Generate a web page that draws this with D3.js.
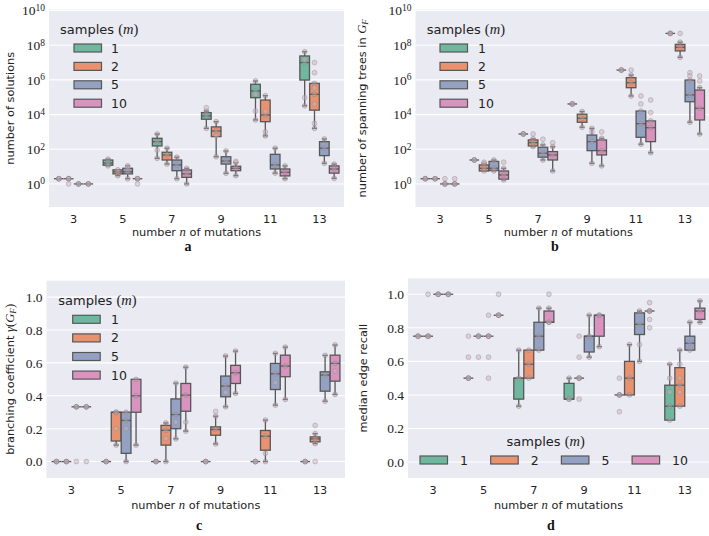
<!DOCTYPE html>
<html><head><meta charset="utf-8">
<script src="https://cdn.jsdelivr.net/npm/d3@7"></script>
<style>body{margin:0;background:#fff}svg{display:block}</style>
</head><body>
<svg id="chart" width="709" height="536"></svg>
<script>
// ---------- DATA ----------
const mutations = [3, 5, 7, 9, 11, 13];
const samples = ["1", "2", "5", "10"];
// box stats per n: [whiskerLow, q1, median, q3, whiskerHigh]

// (a) number of solutions
const solutionsM1 = [[2,2,2,2,2],[11,12,16,24,27],[30,155,275,430,760],[1600,5400,8300,13000,16000],[4900,94000,230000,560000,870000],[32000,980000,1.0e7,2.4e7,4.2e7]];
const solutionsM2 = [[2,2,2,2,2],[3,3.8,5,6.5,6.5],[14,24,47,67,115],[37,540,1130,1950,3900],[590,3900,9500,69000,123000],[1600,18000,148000,630000,630000]];
const solutionsM5 = [[1,1,1,1,1],[2,3.8,5,8,11],[2,5.8,12.5,24,35],[4.1,14,21,37,80],[4.2,7.3,12.5,51,115],[15.5,43,115,275,390]];
const solutionsM10 = [[1,1,1,1,1],[2,2,2,2,2],[1,2.4,3.8,6.4,8],[3,5.8,8,10.5,17],[2,2.9,4.7,7.3,11],[2.1,4.2,7.3,11,14]];
// extra visible points: [nIndex, sampleIndex, value]
const solutionsPoints = [[0,1,1],[1,3,1],[1,2,9],[2,0,90],[3,0,25000],[3,1,600],[3,3,20],[4,0,16000],[4,0,150000],[4,1,1000],[4,1,15000],[5,0,94000],[5,0,1.5e7],[5,1,1e7],[5,1,2.6e6],[5,1,350000],[5,1,40000],[5,1,3100]];

// (b) number of spanning trees in G_F
const treesM1 = [[2,2,2,2,2],[24,24,24,24,24],[760,760,760,760,760],[41000,41000,41000,41000,41000],[3.7e6,3.7e6,3.7e6,3.7e6,3.7e6],[4.8e8,4.8e8,4.8e8,4.8e8,4.8e8]];
const treesM2 = [[2,2,2,2,2],[5.6,5.6,8,12.5,15.5],[140,155,240,345,400],[1850,3600,6100,10500,15000],[118000,355000,690000,1.35e6,1.9e6],[2e7,4.7e7,7.6e7,1.12e8,1.5e8]];
const treesM5 = [[1,1,1,1,1],[5.6,6,8,20,24],[24,35,59,130,178],[15.5,83,275,660,1600],[195,490,3000,16000,16000],[3600,55000,135000,980000,980000]];
const treesM10 = [[1,1,1,1,1],[1.7,1.9,3.3,5.6,8],[5.6,24,47,73,140],[11,47,83,345,430],[63,275,1750,4300,4300],[760,4900,23000,260000,355000]];
const treesPoints = [[0,2,2],[0,3,2],[1,1,18],[1,3,18],[2,1,760],[2,2,380],[2,3,240],[3,2,1000],[3,3,1000],[4,1,3.7e6],[4,2,41000],[4,2,118000],[4,3,13000],[4,3,69000],[5,1,4.8e8],[5,2,2.6e6],[5,2,1.7e6],[5,3,1.7e6],[5,3,870000]];

// (c) branching coefficient
const branchM1 = [[0,0,0,0,0],[0,0,0,0,0],[0,0,0,0,0],[0,0,0,0,0],[0,0,0,0,0],[0,0,0,0,0]];
const branchM2 = [[0,0,0,0,0],[0.1,0.125,0.3,0.3,0.3],[0,0.1,0.19,0.22,0.235],[0.107,0.16,0.195,0.211,0.276],[0,0.069,0.154,0.189,0.252],[0.109,0.12,0.138,0.15,0.17]];
const branchM5 = [[0.333,0.333,0.333,0.333,0.333],[0,0.05,0.25,0.3,0.3],[0.138,0.2,0.286,0.381,0.477],[0.333,0.394,0.459,0.52,0.642],[0.343,0.438,0.534,0.597,0.658],[0.367,0.428,0.526,0.546,0.646]];
const branchM10 = [[0.333,0.333,0.333,0.333,0.333],[0.1,0.3,0.4,0.5,0.5],[0.185,0.306,0.404,0.475,0.574],[0.414,0.475,0.54,0.585,0.672],[0.378,0.516,0.581,0.647,0.696],[0.408,0.489,0.597,0.647,0.709]];
const branchPoints = [[0,2,0],[0,3,0],[1,1,0.2],[1,2,0.2],[2,1,0.14],[3,1,0.305],[4,1,0.05],[5,1,0.22],[5,1,0],[2,2,0.24],[2,3,0.24],[3,2,0.42],[4,2,0.48],[5,3,0.55]];

// (d) median edge recall
const recallM1 = [[0.75,0.75,0.75,0.75,0.75],[0.5,0.5,0.5,0.5,0.5],[0.333,0.375,0.5,0.5,0.667],[0.375,0.375,0.375,0.469,0.5],[0.4,0.4,0.4,0.4,0.4],[0.25,0.25,0.333,0.458,0.583]];
const recallM2 = [[0.75,0.75,0.75,0.75,0.75],[0.75,0.75,0.75,0.75,0.75],[0.5,0.5,0.583,0.667,0.667],[0.5,0.5,0.5,0.5,0.5],[0.4,0.4,0.5,0.6,0.7],[0.333,0.333,0.458,0.5625,0.667]];
const recallM5 = [[1,1,1,1,1],[0.75,0.75,0.75,0.75,0.75],[0.667,0.667,0.75,0.833,0.917],[0.625,0.656,0.75,0.75,0.875],[0.6,0.76,0.821,0.889,0.9],[0.667,0.667,0.708,0.75,0.833]];
const recallM10 = [[1,1,1,1,1],[0.875,0.875,0.875,0.875,0.875],[0.833,0.833,0.833,0.9,0.917],[0.6875,0.75,0.875,0.875,0.875],[0.9,0.9,0.9,0.9,0.9],[0.833,0.85,0.9,0.917,0.96]];
const recallPoints = [[0,1,1.0],[1,0,0.75],[1,0,0.625],[1,1,0.625],[1,2,0.875],[1,2,0.625],[1,2,0.5],[1,3,1.0],[2,3,1.0],[3,1,0.75],[3,1,0.625],[3,1,0.375],[4,0,0.5],[4,0,0.3],[4,2,0.7],[4,3,0.95],[4,3,0.85],[4,3,0.8],[5,0,0.5],[5,0,0.417],[5,1,0.583],[5,1,0.417],[5,1,0.5]];

const logTicks = [1, 1e2, 1e4, 1e6, 1e8, 1e10];
const linTicks = [0, 0.2, 0.4, 0.6, 0.8, 1.0];

// ---------- STYLE ----------
const palette = ["#6fb89f", "#e8926f", "#93a2c3", "#d993bf"];
const edge = "#575757";
const sans = "DejaVu Sans, sans-serif";
const serif = "Liberation Serif, DejaVu Serif, serif";

const svg = d3.select("#chart");

function mathLabel(sel, parts) {
  parts.forEach(p => {
    const t = sel.append("tspan").text(p.t);
    if (p.i) t.attr("font-family", serif).attr("font-style", "italic").attr("font-size", "1.12em");
    if (p.sub) t.attr("font-family", serif).attr("font-style", "italic").attr("font-size", "0.8em").attr("baseline-shift", "-25%");
    if (p.s) t.attr("font-family", serif).attr("font-size", "1.12em");
  });
}

function panel(o) {
  const g = svg.append("g");
  const x = d3.scaleBand().domain(mutations).range([o.x0, o.x1]);
  const bw = x.bandwidth();
  const hue = d3.scaleBand().domain(d3.range(samples.length)).range([0.1 * bw, 0.9 * bw]);
  const boxW = hue.bandwidth() * 0.98;
  const y = (o.log ? d3.scaleLog() : d3.scaleLinear()).domain(o.domain).range([o.y1, o.y0]);

  g.append("rect").attr("x", o.x0).attr("y", o.y0).attr("width", o.x1 - o.x0).attr("height", o.y1 - o.y0).attr("fill", "#eaeaf2");
  g.selectAll(".grid").data(o.ticks).join("line")
    .attr("x1", o.x0).attr("x2", o.x1).attr("y1", d => y(d)).attr("y2", d => y(d))
    .attr("stroke", "#fff").attr("stroke-width", 1.1);

  // y axis
  const ya = g.append("g").attr("transform", `translate(${o.x0},0)`)
    .call(d3.axisLeft(y).tickValues(o.ticks).tickSize(0).tickPadding(4)
      .tickFormat(o.log ? (d => "") : d3.format(".1f")));
  ya.select(".domain").remove();
  ya.selectAll("text").attr("font-family", serif).attr("font-size", 13.5).attr("fill", "#222");
  if (o.log) {
    ya.selectAll("text").each(function(d) {
      const t = d3.select(this);
      t.append("tspan").text("10");
      t.append("tspan").text(Math.round(Math.log10(d))).attr("font-size", 9.5).attr("dy", "-0.45em");
    });
  }
  // x axis
  const xa = g.append("g").attr("transform", `translate(0,${o.y1})`)
    .call(d3.axisBottom(x).tickSize(0).tickPadding(8));
  xa.select(".domain").remove();
  xa.selectAll("text").attr("font-family", sans).attr("font-size", 11.3).attr("fill", "#222");

  // boxes
  o.series.forEach((ser, s) => {
    ser.forEach((st, i) => {
      const cx = x(mutations[i]) + hue(s) + hue.bandwidth() / 2;
      const [lo, q1, med, q3, hi] = st;
      const bg = g.append("g");
      bg.append("line").attr("x1", cx).attr("x2", cx).attr("y1", y(q1)).attr("y2", y(lo)).attr("stroke", edge).attr("stroke-width", 1.3);
      bg.append("line").attr("x1", cx).attr("x2", cx).attr("y1", y(q3)).attr("y2", y(hi)).attr("stroke", edge).attr("stroke-width", 1.3);
      [lo, hi].forEach(v => bg.append("line").attr("x1", cx - boxW / 4).attr("x2", cx + boxW / 4).attr("y1", y(v)).attr("y2", y(v)).attr("stroke", edge).attr("stroke-width", 1.3));
      bg.append("rect").attr("x", cx - boxW / 2).attr("width", boxW).attr("y", y(q3)).attr("height", Math.max(0, y(q1) - y(q3)))
        .attr("fill", palette[s]).attr("stroke", edge).attr("stroke-width", 1.3);
      bg.append("line").attr("x1", cx - boxW / 2).attr("x2", cx + boxW / 2).attr("y1", y(med)).attr("y2", y(med)).attr("stroke", edge).attr("stroke-width", 1.3);
      // data points at whisker ends and median
      [lo, med, hi].forEach(v => bg.append("circle").attr("cx", cx).attr("cy", y(v)).attr("r", 2.4)
        .attr("fill", "#b9a7b0").attr("fill-opacity", 0.45).attr("stroke", "#8e8088").attr("stroke-opacity", 0.55).attr("stroke-width", 0.8));
    });
  });
  g.selectAll(".pt").data(o.points).join("circle")
    .attr("cx", d => x(mutations[d[0]]) + hue(d[1]) + hue.bandwidth() / 2)
    .attr("cy", d => y(d[2])).attr("r", 2.4)
    .attr("fill", "#c9b3bd").attr("fill-opacity", 0.5).attr("stroke", "#9a8a92").attr("stroke-opacity", 0.55).attr("stroke-width", 0.8);

  // axis labels
  const xl = g.append("text").attr("x", (o.x0 + Math.min(o.x1, 709)) / 2 + (o.xlShift || 0)).attr("y", o.xlY).attr("text-anchor", "middle")
    .attr("font-family", sans).attr("font-size", 11.3).attr("fill", "#222");
  mathLabel(xl, [{t: "number "}, {t: "n", i: true}, {t: " of mutations"}]);
  const yl = g.append("text").attr("transform", `translate(${o.ylX},${(o.y0 + o.y1) / 2}) rotate(-90)`).attr("text-anchor", "middle")
    .attr("font-family", sans).attr("font-size", 11.3).attr("fill", "#222");
  mathLabel(yl, o.ylabel);

  // panel letter
  g.append("text").attr("x", o.letterX).attr("y", o.letterY).attr("text-anchor", "middle")
    .attr("font-family", serif).attr("font-weight", "bold").attr("font-size", 14).attr("fill", "#111").text(o.letter);

  // legend
  const L = o.legend;
  const lt = g.append("text").attr("x", L.tx).attr("y", L.ty).attr("text-anchor", L.anchor || "start")
    .attr("font-family", sans).attr("font-size", 13).attr("fill", "#222");
  lt.append("tspan").text("samples ");
  lt.append("tspan").text("(").attr("font-family", serif).attr("font-size", 14.5);
  lt.append("tspan").text("m").attr("font-family", serif).attr("font-style", "italic").attr("font-size", 14.5);
  lt.append("tspan").text(")").attr("font-family", serif).attr("font-size", 14.5);
  samples.forEach((lab, s) => {
    const px = L.horizontal ? L.px + s * L.step : L.px;
    const py = L.horizontal ? L.py : L.py + s * L.step;
    g.append("rect").attr("x", px).attr("y", py - 4).attr("width", 27.5).attr("height", 8)
      .attr("fill", palette[s]).attr("stroke", edge).attr("stroke-width", 1.2);
    g.append("text").attr("x", px + L.labOff).attr("y", py + 4.5).attr("font-family", sans).attr("font-size", 12.5).attr("fill", "#222").text(lab);
  });
}

panel({
  x0: 49, x1: 344, y0: 9.5, y1: 207, log: true, domain: [Math.pow(10, -1.33), Math.pow(10, 10.06)], ticks: logTicks,
  series: [solutionsM1, solutionsM2, solutionsM5, solutionsM10], points: solutionsPoints,
  ylabel: [{t: "number of solutions"}], ylX: 14, xlY: 236, letter: "a", letterX: 188, letterY: 251,
  legend: {tx: 60, ty: 34, px: 74, py: 48, step: 18.4, labOff: 37}
});
panel({
  x0: 415.5, x1: 709.5, y0: 9.5, y1: 207, log: true, domain: [Math.pow(10, -1.33), Math.pow(10, 10.06)], ticks: logTicks,
  series: [treesM1, treesM2, treesM5, treesM10], points: treesPoints,
  ylabel: [{t: "number of spanning trees in "}, {t: "G", i: true}, {t: "F", sub: true}], ylX: 366, xlY: 236, xlShift: 6, letter: "b", letterX: 555, letterY: 251,
  legend: {tx: 426.7, ty: 34, px: 440, py: 48, step: 18.4, labOff: 38}
});
panel({
  x0: 46.5, x1: 345, y0: 280.7, y1: 478, log: false, domain: [-0.1, 1.1], ticks: linTicks,
  series: [branchM1, branchM2, branchM5, branchM10], points: branchPoints,
  ylabel: [{t: "branching coefficient "}, {t: "γ", i: true}, {t: "(", s: true}, {t: "G", i: true}, {t: "F", sub: true}, {t: ")", s: true}],
  ylX: 14, xlY: 509, letter: "c", letterX: 199, letterY: 530,
  legend: {tx: 58.3, ty: 304.5, px: 72.7, py: 319.3, step: 18.6, labOff: 38.3}
});
panel({
  x0: 408, x1: 710, y0: 278.3, y1: 478, log: false, domain: [-0.095, 1.095], ticks: linTicks,
  series: [recallM1, recallM2, recallM5, recallM10], points: recallPoints,
  ylabel: [{t: "median edge recall"}], ylX: 367, xlY: 508.5, xlShift: 0, letter: "d", letterX: 551, letterY: 530,
  legend: {tx: 545.7, ty: 445.5, anchor: "middle", horizontal: true, px: 420, py: 460, step: 70.7, labOff: 40}
});
</script>
</body></html>
